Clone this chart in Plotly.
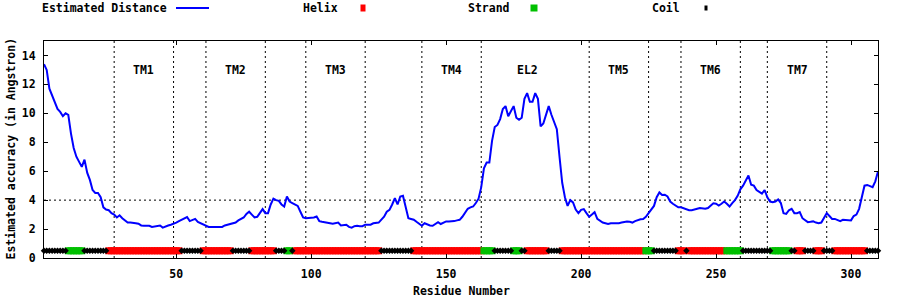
import plotly.graph_objects as go

# ---------------- data ----------------
residues = list(range(1, 311))
distance = [
    13.4, 13.0, 11.7, 11.2, 10.8, 10.3, 10.1, 9.8, 10.0, 9.9,
    8.6, 7.6, 7.0, 6.6, 6.3, 6.8, 5.9, 5.4, 4.7, 4.5,
    4.5, 4.2, 3.5, 3.35, 3.3, 3.1, 3.0, 2.8, 2.95, 2.75,
    2.6, 2.45, 2.45, 2.45, 2.4, 2.37, 2.25, 2.23, 2.23, 2.23,
    2.15, 2.2, 2.25, 2.25, 2.1, 2.2, 2.25, 2.3, 2.35, 2.45,
    2.55, 2.65, 2.75, 2.83, 2.55, 2.65, 2.7, 2.5, 2.4, 2.35,
    2.25, 2.15, 2.15, 2.15, 2.1, 2.1, 2.15, 2.25, 2.3, 2.35,
    2.4, 2.45, 2.6, 2.7, 2.8, 3.05, 3.2, 3.0, 2.8, 2.85,
    3.15, 3.38, 3.1, 3.1, 3.7, 4.1, 4.0, 3.95, 3.7, 3.56,
    4.25, 3.9, 3.8, 3.68, 3.6, 3.2, 2.8, 2.75, 2.75, 2.75,
    2.8, 2.87, 2.55, 2.5, 2.45, 2.4, 2.4, 2.37, 2.4, 2.45,
    2.25, 2.28, 2.3, 2.15, 2.1, 2.2, 2.23, 2.2, 2.2, 2.3,
    2.3, 2.3, 2.4, 2.4, 2.45, 2.65, 2.85, 3.2, 3.33, 3.7,
    4.14, 3.7, 4.25, 4.3, 3.4, 2.75, 2.7, 2.65, 2.5, 2.35,
    2.23, 2.4, 2.3, 2.25, 2.23, 2.35, 2.48, 2.35, 2.45, 2.53,
    2.53, 2.53, 2.55, 2.6, 2.64, 2.85, 3.15, 3.4, 3.5, 3.56,
    3.8, 4.1, 4.9, 6.2, 6.6, 6.6, 8.1, 9.05, 9.2, 9.6,
    10.3, 10.5, 9.8, 10.2, 10.5, 9.7, 9.55, 9.7, 11.0, 11.4,
    10.8, 10.8, 11.4, 11.0, 9.1, 9.3, 10.0, 10.5, 9.9, 9.4,
    8.9, 7.0, 5.2, 4.2, 3.6, 4.0, 3.84, 3.35, 3.1, 3.33,
    3.38, 3.1, 2.85, 3.0, 3.17, 2.7, 2.55, 2.45, 2.4, 2.35,
    2.4, 2.4, 2.37, 2.4, 2.45, 2.5, 2.53, 2.5, 2.45, 2.55,
    2.64, 2.68, 2.7, 2.85, 3.1, 3.35, 3.6, 4.2, 4.53, 4.35,
    4.37, 4.25, 3.9, 3.75, 3.6, 3.5, 3.5, 3.42, 3.35, 3.3,
    3.3, 3.33, 3.4, 3.45, 3.4, 3.4, 3.45, 3.6, 3.78, 3.75,
    3.63, 3.75, 3.9, 3.75, 3.56, 3.8, 4.0, 4.3, 4.75, 5.0,
    5.4, 5.7, 5.06, 5.0, 4.7, 4.6, 4.45, 4.7, 4.2, 3.9,
    3.85, 3.9, 4.05, 3.8, 3.1, 3.05, 3.3, 3.4, 3.1, 3.1,
    3.17, 2.75, 2.6, 2.48, 2.5, 2.53, 2.45, 2.4, 2.45, 2.8,
    3.1, 2.9, 2.7, 2.7, 2.6, 2.55, 2.64, 2.64, 2.62, 2.6,
    2.9, 3.0, 3.4, 4.2, 5.0, 5.05, 4.95, 4.9, 5.3, 5.98,
]

# secondary structure: (type, first residue, last residue)
ss_segments = [
    ("C", 1, 9), ("E", 10, 15), ("C", 16, 24), ("H", 25, 51), ("C", 52, 59),
    ("H", 60, 70), ("C", 71, 77), ("H", 78, 86), ("C", 87, 90), ("E", 91, 92),
    ("C", 93, 93), ("H", 94, 125), ("C", 126, 137), ("H", 138, 163), ("E", 164, 167),
    ("C", 168, 174), ("E", 175, 177), ("C", 178, 179), ("H", 180, 187), ("C", 188, 192),
    ("H", 193, 223), ("E", 224, 226), ("C", 227, 235), ("H", 236, 238), ("C", 239, 239),
    ("H", 240, 253), ("E", 254, 259), ("C", 260, 270), ("E", 271, 277), ("C", 278, 279),
    ("H", 280, 282), ("C", 283, 286), ("H", 287, 289), ("C", 290, 293), ("H", 294, 305),
    ("C", 306, 310),
]
ss_level = 0.5

tm_boundaries = [27, 49, 61, 83, 98, 120, 141, 163, 203, 225, 237, 259, 269, 291]
region_labels = ["TM1", "TM2", "TM3", "TM4", "EL2", "TM5", "TM6", "TM7"]
region_label_x = [38, 72, 109, 152, 180, 214, 248, 280]
region_label_y = 13
threshold = 4

x_ticks = [50, 100, 150, 200, 250, 300]
y_ticks = [0, 2, 4, 6, 8, 10, 12, 14]

# ---------------- figure ----------------
FONT = dict(family="DejaVu Sans Mono", size=11.5, color="black", weight="bold")
L, R, T, B = 44, 22, 41, 42
W, H = 900, 300
PW, PH = W - L - R, H - T - B


def px(x):
    return (x - L) / PW


def py(y):
    return (H - B - y) / PH


fig = go.Figure()

fig.add_trace(go.Scatter(
    x=residues, y=distance, mode="lines",
    line=dict(color="#0000ff", width=2), showlegend=False, hoverinfo="skip"))

ss_style = {
    "H": dict(color="#ff0000", symbol="square", size=7),
    "E": dict(color="#00c000", symbol="square", size=7),
    "C": dict(color="#000000", symbol="diamond", size=5),
}
for t in ["H", "E", "C"]:
    xs = [r for (tt, a, b) in ss_segments if tt == t for r in range(a, b + 1)]
    st = ss_style[t]
    fig.add_trace(go.Scatter(
        x=xs, y=[ss_level] * len(xs), mode="markers",
        marker=dict(color=st["color"], symbol=st["symbol"], size=st["size"],
                    line=dict(width=0)),
        showlegend=False, hoverinfo="skip", cliponaxis=False))

shapes = []
for xb in tm_boundaries:
    shapes.append(dict(type="line", xref="x", yref="paper", x0=xb, x1=xb, y0=0, y1=1,
                       line=dict(color="black", width=1, dash="2px,3px"), layer="below"))
shapes.append(dict(type="line", xref="paper", yref="y", x0=0, x1=1, y0=threshold, y1=threshold,
                   line=dict(color="black", width=1, dash="2px,3px"), layer="below"))

# legend (gnuplot style: text then sample)
leg_y = 8
shapes.append(dict(type="line", xref="paper", yref="paper", x0=px(176), x1=px(209),
                   y0=py(leg_y), y1=py(leg_y), line=dict(color="#0000ff", width=2)))
for cx, col, w_, h_ in [(363, "#ff0000", 5, 7), (534, "#00c000", 7, 7), (706, "#000000", 3, 5)]:
    shapes.append(dict(type="rect", xref="paper", yref="paper", xsizemode="pixel", ysizemode="pixel",
                       xanchor=px(cx), yanchor=py(leg_y), x0=-w_ / 2, x1=w_ / 2, y0=-h_ / 2, y1=h_ / 2,
                       fillcolor=col, line=dict(width=0)))

annotations = []
for txt, rx in [("Estimated Distance", 169), ("Helix", 340), ("Strand", 512), ("Coil", 682)]:
    annotations.append(dict(text=txt, xref="paper", yref="paper", x=px(rx), y=py(leg_y),
                            xanchor="right", yanchor="middle", showarrow=False, font=FONT))
for lab, lx in zip(region_labels, region_label_x):
    annotations.append(dict(text=lab, x=lx, y=region_label_y, xref="x", yref="y",
                            showarrow=False, font=FONT, xanchor="center", yanchor="middle"))
annotations.append(dict(text="Residue Number", xref="paper", yref="paper", x=px(461), y=py(291),
                        xanchor="center", yanchor="middle", showarrow=False, font=FONT))
annotations.append(dict(text="Estimated accuracy (in Angstron)", xref="paper", yref="paper",
                        x=px(10.5), y=py(149), xanchor="center", yanchor="middle",
                        showarrow=False, font=FONT, textangle=-90))

axis_common = dict(showline=True, linecolor="black", linewidth=1, mirror="ticks",
                   ticks="inside", ticklen=4, tickcolor="black", tickwidth=1,
                   showgrid=False, zeroline=False, tickfont=FONT)

fig.update_layout(
    width=W, height=H, margin=dict(l=L, r=R, t=T, b=B, autoexpand=False),
    paper_bgcolor="white", plot_bgcolor="white",
    xaxis=dict(range=[1, 310], tickvals=x_ticks, ticklabelstandoff=5, **axis_common),
    yaxis=dict(range=[0, 15], tickvals=y_ticks, ticklabelstandoff=5, **axis_common),
    shapes=shapes, annotations=annotations, showlegend=False,
)

fig.write_html("out.html")
